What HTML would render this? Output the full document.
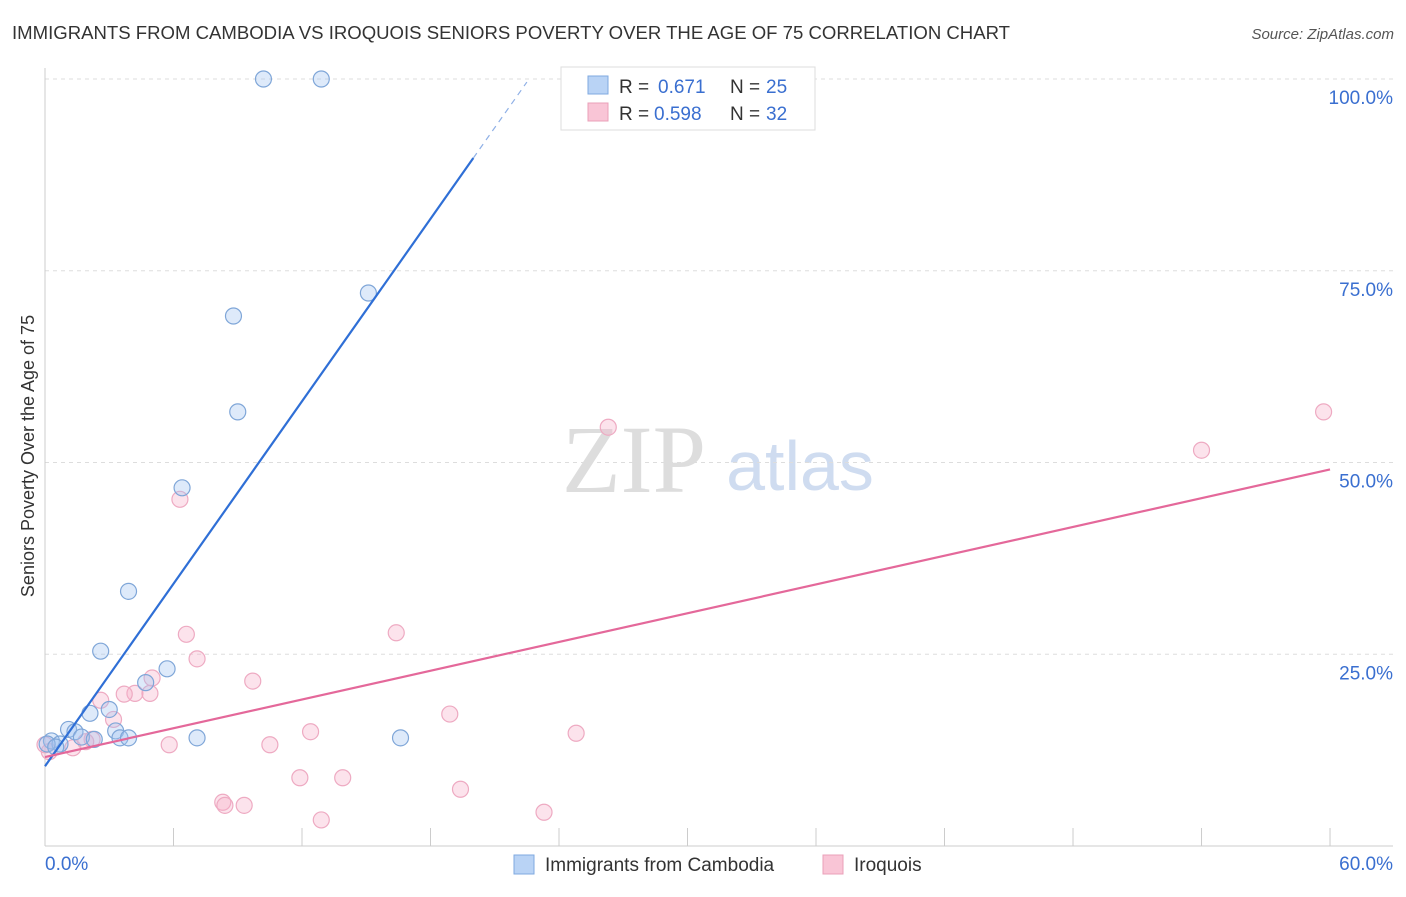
<!DOCTYPE html>
<html><head><meta charset="utf-8"><style>
body{margin:0;background:#fff;font-family:"Liberation Sans",sans-serif;}
svg text{font-family:"Liberation Sans",sans-serif;}
</style></head><body>
<svg width="1406" height="892" xmlns="http://www.w3.org/2000/svg">
<text x="12" y="39" font-size="18" fill="#333" textLength="998" lengthAdjust="spacingAndGlyphs">IMMIGRANTS FROM CAMBODIA VS IROQUOIS SENIORS POVERTY OVER THE AGE OF 75 CORRELATION CHART</text>
<text x="1394" y="39" font-size="15" fill="#555" font-style="italic" text-anchor="end">Source: ZipAtlas.com</text>
<text x="634" y="492" font-size="96" fill="#ddd" style="font-family:'Liberation Serif',serif" text-anchor="middle">ZIP</text>
<text x="800" y="490" font-size="70" fill="#cfdcf0" text-anchor="middle">atlas</text>
<g id="grid"></g>
<g id="axes"></g>
<g id="marks"></g>
<text transform="translate(34,456) rotate(-90)" font-size="18" fill="#333" text-anchor="middle">Seniors Poverty Over the Age of 75</text>
<g>
<rect x="561" y="67" width="254" height="63" fill="#fff" stroke="#ddd"/>
<rect x="588" y="76" width="20" height="18" fill="#b9d3f5" stroke="#7fa9e0"/>
<rect x="588" y="103" width="20" height="18" fill="#f9c5d6" stroke="#eaa0b8"/>
<text x="619" y="93" font-size="19" fill="#333">R =</text>
<text x="658" y="93" font-size="19" fill="#3a6fd0">0.671</text>
<text x="730" y="93" font-size="19" fill="#333">N =</text>
<text x="766" y="93" font-size="19" fill="#3a6fd0">25</text>
<text x="619" y="120" font-size="19" fill="#333">R =</text>
<text x="654" y="120" font-size="19" fill="#3a6fd0">0.598</text>
<text x="730" y="120" font-size="19" fill="#333">N =</text>
<text x="766" y="120" font-size="19" fill="#3a6fd0">32</text>
</g>
<g>
<rect x="514" y="855" width="20" height="19" fill="#b9d3f5" stroke="#7fa9e0"/>
<text x="545" y="871" font-size="19" fill="#333">Immigrants from Cambodia</text>
<rect x="823" y="855" width="20" height="19" fill="#f9c5d6" stroke="#eaa0b8"/>
<text x="854" y="871" font-size="19" fill="#333">Iroquois</text>
</g>
</svg>
<script>
const yTicks=[0,25,50,75,100];
const yTickLabels=["","25.0%","50.0%","75.0%","100.0%"];
const cambX=[10.2,12.9,15.1,8.8,9.0,6.4,3.9,2.6,5.7,4.7,3.0,2.1,1.1,1.4,1.7,2.3,3.3,3.5,3.9,7.1,16.6,0.3,0.7,0.1,0.5];
const cambY=[100,100,72.1,69.1,56.6,46.7,33.2,25.4,23.1,21.3,17.8,17.3,15.2,14.9,14.2,13.9,15.0,14.1,14.1,14.1,14.1,13.7,13.3,13.3,12.9];
const iroqX=[26.3,54.0,59.7,6.3,6.6,16.4,7.1,9.7,5.0,4.2,3.7,4.9,2.6,3.2,18.9,12.4,24.8,10.5,5.8,2.2,1.3,0.2,11.9,13.9,19.4,8.3,8.4,9.3,23.3,12.9,0.0,1.9];
const iroqY=[54.6,51.6,56.6,45.2,27.6,27.8,24.4,21.5,21.9,19.9,19.8,19.9,19.0,16.5,17.2,14.9,14.7,13.2,13.2,13.9,12.8,12.3,8.9,8.9,7.4,5.7,5.3,5.3,4.4,3.4,13.2,13.6];
const cambTrend=[[0,10.4],[20,89.7]];
const cambDash=[[20,89.7],[22.5,99.6]];
const iroqTrend=[[0,11.6],[60,49.1]];
const ns="http://www.w3.org/2000/svg";
const X=v=>45+v*21.417, Y=v=>846-v*7.67;
function mk(t,a,p){const e=document.createElementNS(ns,t);for(const k in a)e.setAttribute(k,a[k]);p.appendChild(e);return e;}
const grid=document.getElementById('grid'),axes=document.getElementById('axes'),marks=document.getElementById('marks');
yTicks.forEach((t,i)=>{if(t>0){const l=mk('line',{x1:45,x2:1393,y1:Y(t),y2:Y(t),stroke:'#ddd','stroke-dasharray':'4,4'},grid);


const tx=mk('text',{x:1393,y:Y(t)+25,'font-size':19,fill:'#3a6fd0','text-anchor':'end'},axes);tx.textContent=yTickLabels[i];

}});
const ax=mk('line',{x1:45,x2:1393,y1:846,y2:846,stroke:'#ccc'},axes);


const ay=mk('line',{x1:45,x2:45,y1:68,y2:846,stroke:'#ccc'},axes);


for(let i=0;i<=10;i++){const l=mk('line',{x1:X(i*6),x2:X(i*6),y1:828,y2:846,stroke:'#ccc'},axes);

}
const xl=mk('text',{x:45,y:870,'font-size':19,fill:'#3a6fd0'},axes);xl.textContent='0.0%';


const xr=mk('text',{x:1393,y:870,'font-size':19,fill:'#3a6fd0','text-anchor':'end'},axes);xr.textContent='60.0%';


iroqX.forEach((x,i)=>{const c=mk('circle',{cx:X(x),cy:Y(iroqY[i]),r:8,fill:'rgba(246,175,200,0.35)',stroke:'#eeaac2','stroke-width':1.2},marks);

});
cambX.forEach((x,i)=>{const c=mk('circle',{cx:X(x),cy:Y(cambY[i]),r:8,fill:'rgba(160,195,240,0.35)',stroke:'#7fa6d8','stroke-width':1.2},marks);

});
const t1=mk('line',{x1:X(cambTrend[0][0]),y1:Y(cambTrend[0][1]),x2:X(cambTrend[1][0]),y2:Y(cambTrend[1][1]),stroke:'#2f6fd6','stroke-width':2.2},marks);


const t2=mk('line',{x1:X(cambDash[0][0]),y1:Y(cambDash[0][1]),x2:X(cambDash[1][0]),y2:Y(cambDash[1][1]),stroke:'#8fb0e6','stroke-width':1.2,'stroke-dasharray':'6,5'},marks);


const t3=mk('line',{x1:X(iroqTrend[0][0]),y1:Y(iroqTrend[0][1]),x2:X(iroqTrend[1][0]),y2:Y(iroqTrend[1][1]),stroke:'#e4689a','stroke-width':2.2},marks);


</script>
</body></html>
